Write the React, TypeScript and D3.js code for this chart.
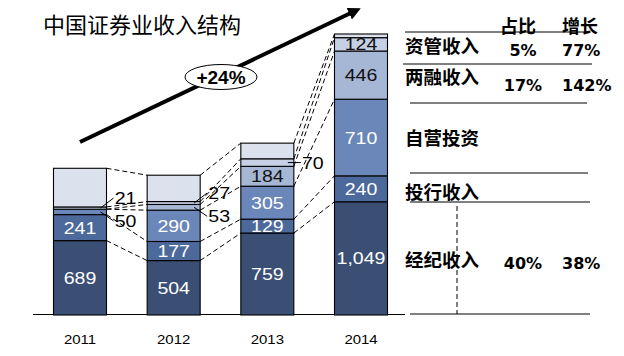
import React from 'react';
import * as d3 from 'd3';

const title = '中国证券业收入结构';
const years = ['2011', '2012', '2013', '2014'];
const seriesKeys = ['brokerage', 'ibanking', 'proprietary', 'margin', 'assetMgmt', 'other'];
const brokerage = [689, 504, 759, 1049];
const ibanking = [241, 177, 129, 240];
const proprietary = [50, 290, 305, 710];
const margin = [0, 53, 184, 446];
const assetMgmt = [21, 27, 70, 124];
const other = [358, 244, 145, 34];
const showLabel = [true, true, true, true, true, false];

const tableLabels = ['资管收入', '两融收入', '自营投资', '投行收入', '经纪收入'];
const shares = ['5%', '17%', '', '', '40%'];
const growth = ['77%', '142%', '', '', '38%'];
const headers = ['占比', '增长'];
const cagr = '+24%';

const colors = ['#3b4f74', '#4c699c', '#6b87ba', '#a6b6d5', '#c5d0e5', '#dbe2ee'];
const textColors = ['#ffffff', '#ffffff', '#ffffff', '#111111', '#111111', '#111111'];

const W = 624;
const H = 356;
const NUM_FONT = '"Liberation Sans", Arial, sans-serif';
const CJK_FONT = '"Noto Sans CJK SC", "Noto Sans", sans-serif';
const SX = 1.15;

function WideText(props: { x: number; y: number; size: number; fill?: string; children: any; weight?: string }) {
  return (
    <text
      transform={`translate(${props.x},${props.y}) scale(${SX},1)`}
      textAnchor="middle"
      fontFamily={NUM_FONT}
      fontSize={props.size}
      fontWeight={props.weight || 'normal'}
      fill={props.fill || '#000'}
    >
      {props.children}
    </text>
  );
}

export default function App() {
  const rows = years.map((y, i) => ({
    year: y,
    brokerage: brokerage[i],
    ibanking: ibanking[i],
    proprietary: proprietary[i],
    margin: margin[i],
    assetMgmt: assetMgmt[i],
    other: other[i],
  }));
  const stack = d3.stack<any>().keys(seriesKeys)(rows);
  const maxTotal = d3.max(rows, (r) => seriesKeys.reduce((s, k) => s + r[k], 0)) as number;

  const x = d3.scalePoint<string>().domain(years).range([80, 361]);
  const y = d3.scaleLinear().domain([0, maxTotal]).range([315, 34]);
  const bw = 53;

  const connectors: any[] = [];
  for (let i = 0; i < years.length - 1; i++) {
    const x0 = (x(years[i]) as number) + bw / 2;
    const x1 = (x(years[i + 1]) as number) - bw / 2;
    stack.forEach((layer, li) => {
      connectors.push(
        <line
          key={`c-${i}-${li}`}
          x1={x0}
          y1={y(layer[i][1])}
          x2={x1}
          y2={y(layer[i + 1][1])}
          stroke="#000"
          strokeWidth={1}
          strokeDasharray="5,3"
        />
      );
    });
  }

  const segs: any[] = [];
  const labels: any[] = [];
  years.forEach((yr, i) => {
    const cx = x(yr) as number;
    const small: { li: number; mid: number; v: number }[] = [];
    stack.forEach((layer, li) => {
      const d = layer[i];
      const v = d[1] - d[0];
      if (v <= 0) return;
      const y0 = y(d[1]);
      const h = y(d[0]) - y(d[1]);
      segs.push(
        <rect
          key={`s-${i}-${li}`}
          x={cx - bw / 2}
          y={y0}
          width={bw}
          height={h}
          fill={colors[li]}
          stroke="#000"
          strokeWidth={1.1}
        />
      );
      if (!showLabel[li]) return;
      if (h > 12) {
        labels.push(
          <WideText key={`l-${i}-${li}`} x={cx} y={y0 + h / 2 + 6} size={17} fill={textColors[li]}>
            {d3.format(',')(v)}
          </WideText>
        );
      } else {
        small.push({ li, mid: y0 + h / 2, v });
      }
    });
    small.forEach((s, k) => {
      const dy = small.length > 1 ? (k === 0 ? 9 : -10) : 0;
      const lx = cx + bw / 2 + 19;
      const ly = s.mid + dy;
      labels.push(
        <g key={`o-${i}-${s.li}`}>
          <line x1={cx + bw / 2 - 6} y1={s.mid} x2={lx - 12} y2={ly} stroke="#000" strokeWidth={1} />
          <WideText x={lx} y={ly + 6} size={17}>
            {s.v}
          </WideText>
        </g>
      );
    });
  });

  const rowBase = [53, 84, 145, 199, 267];
  const valBase = [56, 91, 0, 0, 269];
  const lines = [
    [405, 590, 32],
    [403, 592, 64],
    [410, 587, 103],
    [410, 588, 173],
    [410, 590, 202],
    [410, 590, 314],
  ];

  return (
    <svg width={W} height={H} style={{ position: 'absolute', left: 0, top: 0, background: '#fff' }}>
      <rect width={W} height={H} fill="#fff" />
      <text x={43} y={33} fontFamily={CJK_FONT} fontSize={22} fill="#000">
        {title}
      </text>

      <defs>
        <marker id="ah" viewBox="0 0 10 10" refX={5} refY={5} markerWidth={3.2} markerHeight={3.2} orient="auto">
          <path d="M0,0 L10,5 L0,10 z" fill="#000" />
        </marker>
      </defs>
      <line x1={80} y1={142} x2={355} y2={11} stroke="#000" strokeWidth={4} markerEnd="url(#ah)" />
      <ellipse cx={221} cy={77} rx={36} ry={12.5} fill="#fff" stroke="#000" strokeWidth={1} />
      <text x={221} y={84} textAnchor="middle" fontFamily={NUM_FONT} fontWeight="bold" fontSize={19}>
        {cagr}
      </text>

      <line x1={33} x2={405} y1={314.5} y2={314.5} stroke="#000" strokeWidth={1.2} />

      {connectors}
      {segs}
      {labels}

      {years.map((yr) => (
        <WideText key={yr} x={x(yr) as number} y={344} size={13}>
          {yr}
        </WideText>
      ))}

      {lines.map(([a, b, yy], i) => (
        <line key={`tl-${i}`} x1={a} x2={b} y1={yy} y2={yy} stroke="#000" strokeWidth={1.2} />
      ))}
      <line x1={457} x2={457} y1={206} y2={314} stroke="#000" strokeWidth={1} strokeDasharray="5,3" />
      <text x={518} y={33} textAnchor="middle" fontFamily={CJK_FONT} fontWeight="bold" fontSize={18}>
        {headers[0]}
      </text>
      <text x={580} y={33} textAnchor="middle" fontFamily={CJK_FONT} fontWeight="bold" fontSize={18}>
        {headers[1]}
      </text>
      {tableLabels.map((t, i) => (
        <g key={t}>
          <text x={405} y={rowBase[i]} fontFamily={CJK_FONT} fontWeight="bold" fontSize={18.5}>
            {t}
          </text>
          {shares[i] && (
            <text x={523} y={valBase[i]} textAnchor="middle" fontFamily='"DejaVu Sans", sans-serif' fontWeight="bold" fontSize={16}>
              {shares[i]}
            </text>
          )}
          {growth[i] && (
            <text x={562} y={valBase[i]} fontFamily='"DejaVu Sans", sans-serif' fontWeight="bold" fontSize={16}>
              {growth[i]}
            </text>
          )}
        </g>
      ))}
    </svg>
  );
}
